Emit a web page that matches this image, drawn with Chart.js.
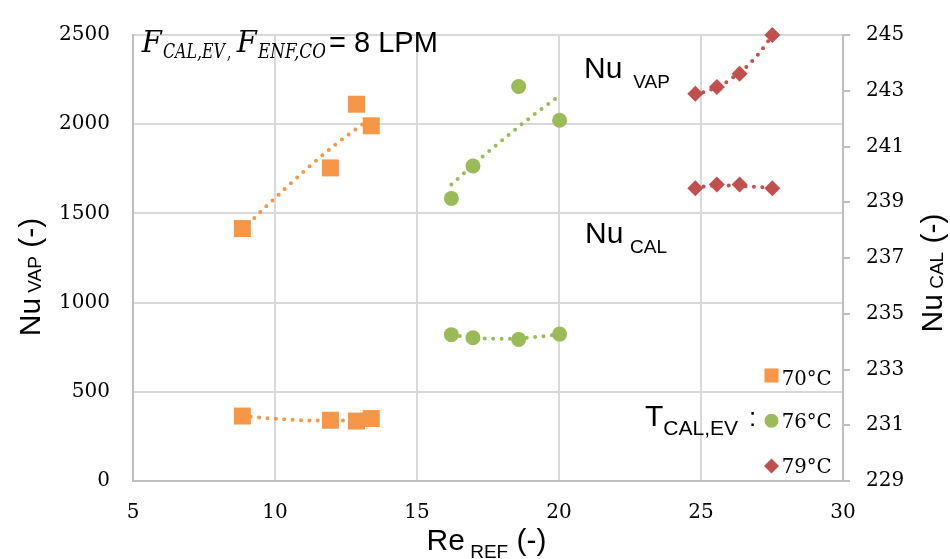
<!DOCTYPE html>
<html>
<head>
<meta charset="utf-8">
<script src="https://cdn.jsdelivr.net/npm/chart.js@4.4.1/dist/chart.umd.min.js"></script>
<style>
  html, body { margin: 0; padding: 0; background: #fff; }
  #wrap { width: 950px; height: 559px; position: relative; }
</style>
</head>
<body>
<div id="wrap"><canvas id="c" width="950" height="559"></canvas></div>
<script>
// evaporator temperatures (legend)
const temps = ["70°C", "76°C", "79°C"];

// Re_REF of each run
const re70 = [8.85, 11.95, 12.87, 13.39];
const re76 = [16.21, 16.97, 18.58, 20.02];
const re79 = [24.8, 25.56, 26.36, 27.51];

// Nu_VAP (left axis)
const nuVap70 = [1415, 1755, 2112, 1991];
const nuVap76 = [1584, 1766, 2211, 2022];
const nuVap79 = [2171, 2208, 2283, 2500];

// Nu_CAL (right axis)
const nuCal70 = [231.33, 231.18, 231.15, 231.24];
const nuCal76 = [234.25, 234.14, 234.08, 234.27];
const nuCal79 = [239.50, 239.64, 239.64, 239.50];

// dotted trend lines
const trVapX70 = [8.85, 9.64, 10.47, 11.32, 12.21, 12.81, 13.39];
const trVapY70 = [1408, 1532, 1656, 1778, 1896, 1968, 2035];
const trVapX76 = [16.21, 16.5, 17.32, 18.17, 19.03, 20.02];
const trVapY76 = [1662, 1703, 1820, 1932, 2043, 2160];
const trVapX79 = [24.8, 25.16, 25.8, 26.07, 26.58, 26.84, 27.08, 27.31, 27.51];
const trVapY79 = [2165, 2184, 2225, 2256, 2319, 2361, 2404, 2454, 2495];

const trCalX70 = [8.85, 9.64, 10.4, 11.16, 12.34, 13.39];
const trCalY70 = [231.33, 231.26, 231.21, 231.17, 231.17, 231.22];
const trCalX76 = [16.21, 16.97, 17.5, 18.2, 18.9, 19.5, 20.02];
const trCalY76 = [234.24, 234.15, 234.11, 234.10, 234.14, 234.20, 234.27];
const trCalX79 = [24.8, 25.19, 25.99, 26.78, 27.51];
const trCalY79 = [239.52, 239.58, 239.60, 239.56, 239.52];

// tick values
const xTicks = [5, 10, 15, 20, 25, 30];
const yTicks = [0, 500, 1000, 1500, 2000, 2500];
const y2Ticks = [229, 231, 233, 235, 237, 239, 241, 243, 245];

const ORANGE = "#F79646", GREEN = "#9BBB59", RED = "#C0504D";
const SANS = "'Liberation Sans', Arial, sans-serif";
const SERIF = "'DejaVu Serif', serif";

const pts = (xs, ys) => xs.map((x, i) => ({ x: x, y: ys[i] }));

function markers(xs, ys, axis, color, style, r) {
  return {
    data: pts(xs, ys), yAxisID: axis, order: 1,
    pointStyle: style, pointRadius: r, pointHoverRadius: r,
    backgroundColor: color, borderColor: color, borderWidth: 0, showLine: false
  };
}
function trend(xs, ys, axis, color) {
  return {
    data: pts(xs, ys), yAxisID: axis, order: 0,
    showLine: true, pointRadius: 0, borderColor: color, borderWidth: 4,
    borderDash: [0, 8.4], borderCapStyle: "round", cubicInterpolationMode: "monotone",
    fill: false
  };
}

function runs(ctx, x, y, parts) {
  for (const p of parts) {
    ctx.font = p.f;
    ctx.fillText(p.t, x, y + (p.dy || 0));
    x += ctx.measureText(p.t).width;
  }
}
function width(ctx, parts) {
  let w = 0;
  for (const p of parts) { ctx.font = p.f; w += ctx.measureText(p.t).width; }
  return w;
}
// draw text squeezed/stretched to a given width
function fit(ctx, text, x, y, font, w) {
  ctx.font = font;
  const m = ctx.measureText(text).width;
  ctx.save();
  ctx.translate(x, y);
  ctx.scale(w / m, 1);
  ctx.fillText(text, 0, 0);
  ctx.restore();
}

const labels = {
  id: "labels",
  afterDraw(chart) {
    const ctx = chart.ctx;
    ctx.save();
    ctx.fillStyle = "#000";
    ctx.textBaseline = "alphabetic";
    ctx.textAlign = "left";

    // x title
    let p = [{ t: "Re", f: "30px " + SANS }, { t: " REF", f: "19px " + SANS, dy: 8 }, { t: " (-)", f: "30px " + SANS }];
    runs(ctx, 486.5 - width(ctx, p) / 2, 550, p);

    // left title
    p = [{ t: "Nu", f: "30px " + SANS }, { t: " VAP", f: "19px " + SANS, dy: 1 }, { t: " (-)", f: "30px " + SANS }];
    ctx.save();
    ctx.translate(40, 277 + width(ctx, p) / 2);
    ctx.rotate(-Math.PI / 2);
    runs(ctx, 0, 0, p);
    ctx.restore();

    // right title
    p = [{ t: "Nu", f: "30px " + SANS }, { t: " CAL", f: "19px " + SANS, dy: 1 }, { t: " (-)", f: "30px " + SANS }];
    ctx.save();
    ctx.translate(942, 273 + width(ctx, p) / 2);
    ctx.rotate(-Math.PI / 2);
    runs(ctx, 0, 0, p);
    ctx.restore();

    // flow rate note
    fit(ctx, "F", 141.7, 52.3, "italic 29px " + SERIF, 20);
    fit(ctx, "CAL,EV", 163, 58.3, "italic 20px " + SERIF, 62);
    fit(ctx, ",", 227, 58.3, "italic 20px " + SERIF, 4);
    fit(ctx, "F", 236.7, 52.3, "italic 29px " + SERIF, 20);
    fit(ctx, "ENF,CO", 258, 58.3, "italic 20px " + SERIF, 68);
    ctx.font = "29px " + SANS;
    ctx.fillText("= 8 LPM", 329, 52.3);

    // series labels
    ctx.font = "30px " + SANS;
    ctx.fillText("Nu", 584, 77.7);
    ctx.fillText("Nu", 585, 243.3);
    ctx.font = "19px " + SANS;
    ctx.fillText("VAP", 633.3, 88.3);
    ctx.fillText("CAL", 630, 253.3);

    // legend
    ctx.font = "30px " + SANS;
    ctx.fillText("T", 645, 426);
    ctx.font = "21px " + SANS;
    ctx.fillText("CAL,EV", 663.3, 435);
    ctx.font = "26px " + SANS;
    ctx.fillText(":", 749, 426);

    const cx = 771.5, ys = [375.5, 420.7, 466], base = [385, 427.5, 473];
    ctx.fillStyle = ORANGE;
    ctx.fillRect(cx - 7, ys[0] - 7, 14, 14);
    ctx.fillStyle = GREEN;
    ctx.beginPath(); ctx.arc(cx, ys[1], 7, 0, Math.PI * 2); ctx.fill();
    ctx.fillStyle = RED;
    ctx.beginPath();
    ctx.moveTo(cx - 7.5, ys[2]); ctx.lineTo(cx, ys[2] - 7.5);
    ctx.lineTo(cx + 7.5, ys[2]); ctx.lineTo(cx, ys[2] + 7.5);
    ctx.closePath(); ctx.fill();
    ctx.fillStyle = "#000";
    temps.forEach((t, i) => fit(ctx, t, 781.7, base[i], "20px " + SERIF, 50));
    ctx.restore();
  }
};

const tickFont = { family: SERIF, size: 20 };
const plain = v => String(v);
const setTicks = arr => s => { s.ticks = arr.map(v => ({ value: v })); };

new Chart(document.getElementById("c"), {
  type: "scatter",
  data: {
    datasets: [
      trend(trVapX70, trVapY70, "y", ORANGE),
      trend(trVapX76, trVapY76, "y", GREEN),
      trend(trVapX79, trVapY79, "y", RED),
      trend(trCalX70, trCalY70, "y2", ORANGE),
      trend(trCalX76, trCalY76, "y2", GREEN),
      trend(trCalX79, trCalY79, "y2", RED),
      markers(re70, nuVap70, "y", ORANGE, "rect", 12),
      markers(re76, nuVap76, "y", GREEN, "circle", 7.5),
      markers(re79, nuVap79, "y", RED, "rectRot", 8),
      markers(re70, nuCal70, "y2", ORANGE, "rect", 12),
      markers(re76, nuCal76, "y2", GREEN, "circle", 7.5),
      markers(re79, nuCal79, "y2", RED, "rectRot", 8)
    ]
  },
  options: {
    responsive: false,
    animation: false,
    devicePixelRatio: 1,
    layout: { padding: { top: 18, left: 0, right: 0, bottom: 0 } },
    plugins: { legend: { display: false }, tooltip: { enabled: false } },
    elements: { point: { hitRadius: 0 } },
    clip: false,
    scales: {
      x: {
        type: "linear", min: 5, max: 30,
        afterBuildTicks: setTicks(xTicks),
        afterFit: s => { s.height = 78; },
        grid: { color: "#d9d9d9", lineWidth: 2, drawTicks: false },
        border: { color: "#bfbfbf", width: 2 },
        ticks: { padding: 20, font: tickFont, color: "#000", callback: plain }
      },
      y: {
        position: "left", min: 0, max: 2500,
        afterBuildTicks: setTicks(yTicks),
        afterFit: s => { s.width = 133; },
        grid: { color: "#d9d9d9", lineWidth: 2, drawTicks: false },
        border: { color: "#bfbfbf", width: 2 },
        ticks: { padding: 23, font: tickFont, color: "#000", callback: plain }
      },
      y2: {
        position: "right", min: 229, max: 245,
        afterBuildTicks: setTicks(y2Ticks),
        afterFit: s => { s.width = 107; },
        grid: { drawOnChartArea: false, color: "#bfbfbf", lineWidth: 2, tickLength: 7 },
        border: { color: "#bfbfbf", width: 2 },
        ticks: { padding: 16, font: tickFont, color: "#000", callback: plain }
      }
    }
  },
  plugins: [labels]
});
</script>
</body>
</html>
